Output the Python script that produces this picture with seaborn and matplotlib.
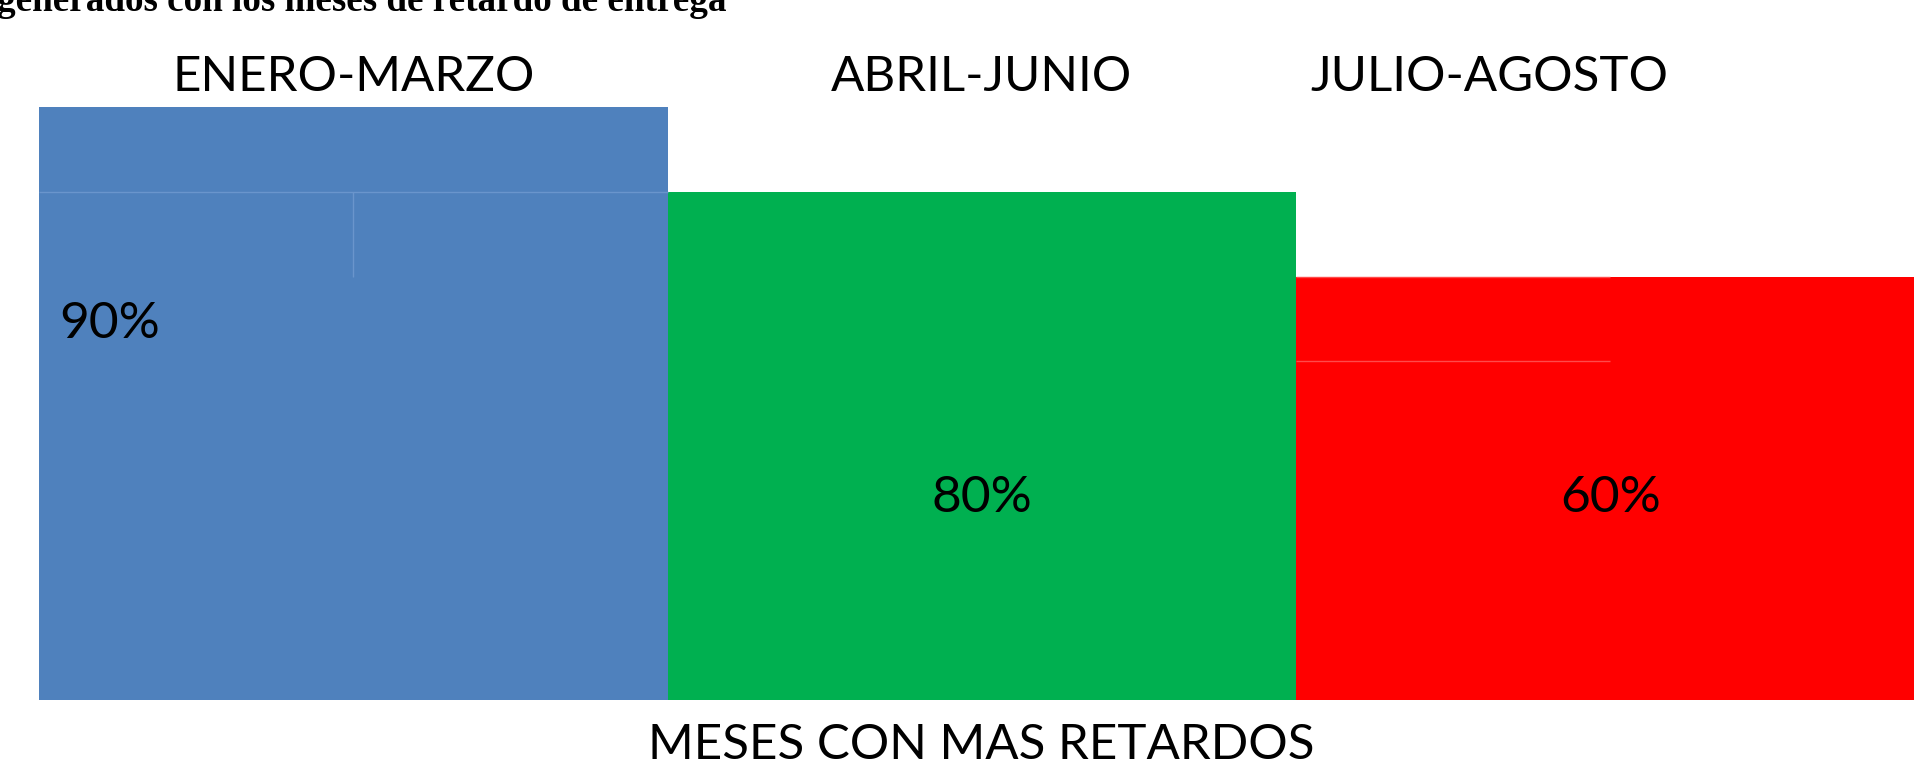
# imports used for the chart
import numpy as np
import pandas as pd
import matplotlib
matplotlib.use("Agg")
import matplotlib.pyplot as plt
import matplotlib.transforms as mtransforms
import seaborn as sns

# data
categorias = ["ENERO-MARZO", "ABRIL-JUNIO", "JULIO-AGOSTO"]
alturas = [7, 6, 5]          # bar heights in grid units as drawn
porcentajes = ["90%", "80%", "60%"]
colores = ["#4F81BD", "#00B050", "#FF0000"]
titulo = "generados con los meses de retardo de entrega"
eje_x = "MESES CON MAS RETARDOS"

df = pd.DataFrame({"mes": categorias, "valor": alturas})

sns.set_style("white")
plt.rcParams["font.family"] = ["Lato", "DejaVu Sans"]
plt.rcParams["text.color"] = "black"

W, H = 1914, 766
fig = plt.figure(figsize=(W / 100, H / 100), dpi=100)

# axes placed to match the picture (bars start at x=39 px, base at y=700 px)
ax = fig.add_axes([39 / W, (H - 699.5) / H, 1 - 39 / W, (699.5 - 107.4) / H])

sns.barplot(data=df, x="mes", y="valor", hue="mes", palette=colores,
            width=1.0, saturation=1, legend=False, ax=ax, linewidth=0)

ax.set_xlim(-0.5, 2.483)
ax.set_ylim(0, 7)
ax.set_axis_off()

# faint cell lines inside the bars
ax.hlines(alturas[1], -0.5, 0.5, color="#6a95cc", linewidth=1)
ax.vlines(0, alturas[2], alturas[1], color="#6a95cc", linewidth=1)
ax.hlines(alturas[2] - 1, 1.5, 2.0, color="#ff4a4a", linewidth=1)
ax.hlines(alturas[2], 1.5, 2.0, color="#ff4a4a", linewidth=1)

# category labels above the bars
trans = mtransforms.blended_transform_factory(ax.transData, fig.transFigure)
pos_etiquetas = [0.0, 1.0, 1.807]
for x, txt in zip(pos_etiquetas, categorias):
    ax.text(x, 1 - 77 / H, txt, transform=trans, ha="center", va="center",
            fontsize=35.5, color="black", clip_on=False)

# percentage labels inside the bars
ax.text(-0.468, 4.44, porcentajes[0], ha="left", va="center", fontsize=37, color="black")
ax.text(1.0, 2.38, porcentajes[1], ha="center", va="center", fontsize=37, color="black")
ax.text(2.0, 2.38, porcentajes[2], ha="center", va="center", fontsize=37, color="black")

# axis caption under the bars
fig.text(981 / W, 1 - 745 / H, eje_x, ha="center", va="center", fontsize=35.5,
         color="black")

# cut off title line at the top
fig.text(-3 / W, 1 - 11 / H, titulo, ha="left", va="baseline", color="black",
         fontsize=26.7, fontweight="bold", family=["Liberation Serif"])

fig.savefig("out.png", dpi=100)
plt.close()
